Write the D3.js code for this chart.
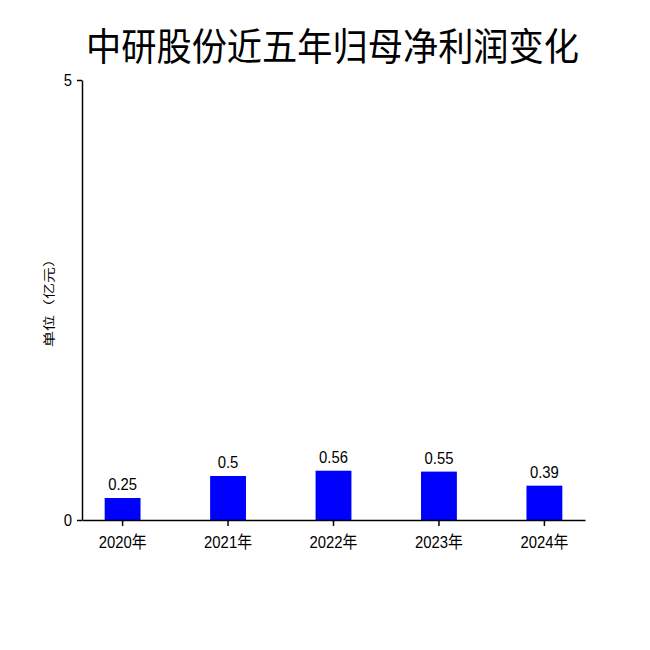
<!DOCTYPE html>
<html><head><meta charset="utf-8">
<script src="https://cdn.jsdelivr.net/npm/d3@7"></script>
<style>body{margin:0;background:#fff}</style>
</head><body>
<svg id="c" width="650" height="650"></svg>
<script>
const title = "中研股份近五年归母净利润变化";
const yLabel = "单位（亿元）";
const categories = ["2020年","2021年","2022年","2023年","2024年"];
const values = [0.25, 0.5, 0.56, 0.55, 0.39];
const yTicks = [0, 5];

const svg = d3.select("#c");
const font = "'Liberation Sans', Arial, 'Noto Sans CJK SC', sans-serif";
const cjk = "'Noto Sans CJK SC', sans-serif";
const mL = 82, mR = 585, mT = 80, mB = 520;
const sq = "scale(0.9,1)";

const x = d3.scaleBand().domain(categories).range([mL, mR]).paddingInner(0.66).paddingOuter(0.215);
const y = d3.scaleLinear().domain([0, 5]).range([mB, mT]);

svg.append("text").attr("transform", `translate(332.5,60) scale(0.927,1)`)
  .attr("text-anchor","middle").attr("font-family", cjk).attr("font-size", 38).attr("fill","#000").text(title);

svg.selectAll("rect.bar").data(values).join("rect").attr("class","bar")
  .attr("x",(d,i)=>x(categories[i])).attr("width",x.bandwidth())
  .attr("y",d=>y(d)).attr("height",d=>y(0)-y(d)).attr("fill","#0000ff");

svg.selectAll("text.val").data(values).join("text").attr("class","val")
  .attr("transform",(d,i)=>`translate(${x(categories[i])+x.bandwidth()/2},${y(d)-8}) ${sq}`)
  .attr("text-anchor","middle").attr("font-family",font).attr("font-size",16.5).attr("fill","#000")
  .text(d=>d);

const gx = svg.append("g").attr("transform",`translate(0,${mB})`)
  .call(d3.axisBottom(x).tickSize(6).tickPadding(10).tickSizeOuter(0));
gx.selectAll("text").attr("font-family",font).attr("font-size",16.5).attr("fill","#000").attr("transform",sq);
gx.selectAll("path,line").attr("stroke","#000").attr("stroke-width",1.5);

const gy = svg.append("g").attr("transform",`translate(${mL},0)`)
  .call(d3.axisLeft(y).tickValues(yTicks).tickFormat(d3.format("d")).tickSize(5).tickPadding(6).tickSizeOuter(0));
gy.selectAll("text").attr("font-family",font).attr("font-size",16.5).attr("fill","#000").attr("transform",sq);
gy.selectAll("path,line").attr("stroke","#000").attr("stroke-width",1.5);

svg.append("text").attr("transform","translate(54,299) scale(0.75,1) rotate(-90)")
  .attr("text-anchor","middle").attr("font-family",cjk).attr("font-size",16).attr("fill","#000").text(yLabel);
</script>
</body></html>
